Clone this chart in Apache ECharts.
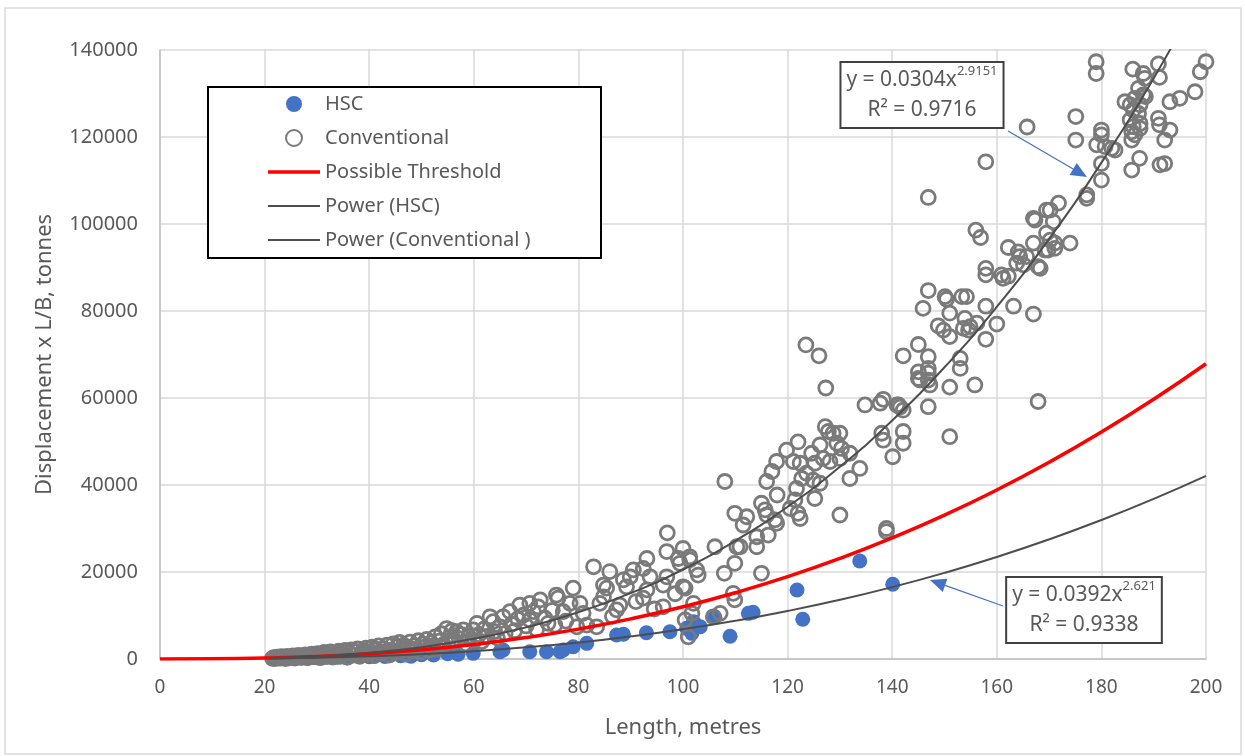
<!DOCTYPE html>
<html>
<head>
<meta charset="utf-8">
<title>Displacement x L/B vs Length</title>
<script src="https://cdn.jsdelivr.net/npm/echarts@6/dist/echarts.min.js"></script>
<style>
  html, body { margin: 0; padding: 0; background: #fff; }
  #chart { width: 1245px; height: 756px; }
</style>
</head>
<body>
<div id="chart"></div>
<script>
(function () {

    // HSC points [length m, displacement x L/B t]
    var hscData = [
        [22, 150], [23, 180], [24, 120], [25, 250], [26, 200], [27, 300], [28, 260],
        [30, 350], [31, 300], [32, 420], [34, 380], [35, 500], [36, 450], [38, 560],
        [40, 520], [41, 650], [43, 600], [44, 800], [46, 750], [47, 900], [48, 650],
        [50, 1000], [52.3, 920], [55, 1200], [57, 1100], [59.9, 1300], [65, 1680],
        [65.6, 2070], [70.7, 1680], [73.9, 1680], [76.5, 1680], [77.1, 2070],
        [79, 2830], [81.6, 3600], [87.3, 5520], [88.6, 5680], [93, 6050], [97.5, 6280],
        [100.7, 7050], [101.7, 5900], [102, 8580], [103.3, 7430], [106.1, 9590],
        [109, 5220], [112.5, 10500], [113.4, 10740], [121.8, 15860], [122.9, 9130],
        [133.8, 22530], [140.1, 17170]
    ];

    // Conventional points
    var convData = [
        [21.5, 150], [21.8, 320], [22, 80], [22.3, 420], [22.6, 250], [23, 180], [23.2, 520],
        [23.6, 330], [24, 90], [24.3, 600], [24.7, 260], [25, 420], [25.4, 700], [25.8, 200],
        [26.2, 520], [26.5, 850], [27, 350], [27.4, 650], [27.8, 950], [28.2, 250], [28.6, 700],
        [29, 1100], [29.4, 480], [29.8, 850], [30.2, 1250], [30.6, 300], [31, 900], [31.4, 1500],
        [31.8, 620], [32.2, 1100], [32.6, 1650], [33, 420], [33.4, 850], [33.8, 1300], [34.2, 1800],
        [34.6, 650], [35, 1150], [35.4, 2000], [35.8, 400], [36.2, 1400], [36.6, 2100], [37, 900],
        [37.4, 1700], [37.8, 2300], [38.2, 600], [38.6, 1250], [39, 1900], [39.4, 2500], [39.8, 1000],
        [40.2, 1600], [40.6, 2700], [41, 800], [41.4, 2100], [41.8, 3000], [42.2, 1300], [42.6, 2400],
        [43, 1700], [43.4, 3200], [43.8, 900], [44.2, 2100], [44.6, 3500], [45, 1500], [45.4, 2800],
        [45.8, 3800], [46.2, 2000], [46.6, 3200], [47, 1200], [47.4, 2600], [47.8, 3900], [48.2, 1800],
        [48.6, 3000], [49, 2300], [49.4, 4200], [49.8, 1600], [50.2, 3400], [50.6, 2700], [51, 4500],
        [51.4, 2000], [51.8, 3700], [52.2, 3000], [52.6, 5100], [53, 2400], [53.4, 4100], [53.8, 5800],
        [54.2, 3300], [54.8, 7000], [55.4, 5100], [55.8, 6500], [56.2, 3800], [56.7, 6300], [57.2, 4700],
        [57.6, 5600], [58, 6700], [58.4, 3500], [59, 5200], [59.9, 6700], [60.2, 4300], [60.6, 8200],
        [61, 5600], [61.5, 4000], [62, 6900], [62.5, 5200], [63.1, 9700], [63.7, 8600], [64, 6300],
        [64.5, 4800], [65, 7400], [65.6, 9700], [66, 5900], [66.9, 10900], [67.2, 8000], [67.8, 6500],
        [68.4, 9200], [68.8, 12400],
        [69.5, 10100], [70, 7600], [70.7, 12800], [70.7, 9000], [71.4, 10900], [72, 6800], [72.3, 12000],
        [72.7, 13600], [73.6, 9400], [74.2, 8200], [75, 11200], [75.5, 7800], [75.8, 14700], [76.1, 14000],
        [77.1, 10900], [77.6, 8700], [78.4, 12800], [79, 16300], [79.7, 7400], [80.3, 12800], [80.9, 10500],
        [81.6, 7800], [82.9, 21200], [83.5, 7400], [84.1, 12800], [84.8, 17000], [84.8, 14300], [85.4, 16300],
        [86, 20100], [86.5, 9800], [87.3, 11300], [87.9, 12400], [88.6, 18200], [89.2, 16600], [89.9, 18900],
        [90.5, 20500], [91, 13200], [92.4, 20800], [92.4, 14000], [93.1, 23100], [93.1, 15900], [93.7, 18900],
        [94.5, 11500], [96.2, 17000], [96.2, 12000], [96.9, 24700], [96.9, 18900], [97, 29000], [98.5, 15000],
        [99.1, 23100], [99.4, 22000], [100, 25400], [100, 16600], [100.4, 16300], [100.4, 9000], [101, 5100],
        [101.3, 22800], [101.3, 23500], [101.7, 10500], [102, 12800], [102.6, 20500], [102.9, 19300],
        [105.8, 9700], [106.1, 25800], [107.1, 10500], [107.9, 19700], [108, 40800], [109.6, 15100],
        [109.9, 13600], [109.9, 22000], [109.9, 33500], [110.3, 25800], [110.9, 25800], [111.5, 30800],
        [112.2, 32700], [114.1, 28100], [114.1, 25800], [115, 35800], [115, 19700], [115.7, 34300],
        [116, 33100], [116, 40800], [116.3, 28500], [117, 43100], [117.6, 32000], [117.9, 31200],
        [117.9, 45400], [118, 37700], [119.8, 48000], [120.5, 34600], [121.1, 45400], [121.4, 36600],
        [121.7, 39200], [122, 49900], [122, 33500], [122.4, 45000], [122.4, 32300], [122.7, 41500],
        [123.5, 72200], [123.6, 42700], [124.6, 47300], [124.9, 41100], [125.2, 45000], [125.2, 36900],
        [126, 69700], [126.2, 49200], [126.2, 40400], [126.8, 46100], [127.2, 53400], [127.3, 62300],
        [127.8, 52300], [128.1, 45400], [128.7, 51900], [129.4, 49600], [130, 51900], [130, 46100],
        [130, 33100], [130.3, 48400], [131.9, 47300], [131.9, 41500], [133.8, 43800], [134.8, 58400],
        [137.7, 58800], [138, 51900], [138.3, 50300], [138.3, 59700], [138.9, 30000], [138.9, 29300],
        [140.1, 46500], [140.9, 58400], [141.2, 58400], [141.5, 57900], [142.1, 57200], [142.1, 52300],
        [142.1, 49600], [142.1, 69700], [145, 72300], [145, 66000], [145, 64500], [145.3, 64100],
        [145.9, 80600], [146.9, 106100], [146.9, 84700], [146.9, 69500], [146.9, 66800], [146.9, 65700],
        [146.9, 64100], [146.9, 58000], [147.2, 63000], [148.8, 76600], [149.8, 75600], [150.1, 83300],
        [150.4, 82700], [151, 79500], [151, 74100], [151, 62500], [151, 51100], [153, 69100], [153, 66800],
        [153.3, 83300], [153.6, 76000], [153.9, 78300], [154.2, 83300], [154.6, 75600], [154.9, 76400],
        [155.8, 63000], [156, 98600], [156.2, 77200], [156.9, 96900], [157.9, 114300], [157.9, 89800],
        [157.9, 88300], [157.9, 81100], [157.9, 73500], [160, 77000], [160.9, 88300], [161.2, 87500],
        [162.2, 94600], [162.2, 88000], [163.2, 81100], [163.8, 91000], [164.1, 93600], [164.4, 92500],
        [165.1, 90600], [165.7, 92500], [165.8, 122300], [167, 101300], [167, 95600], [167, 79300],
        [167.3, 100900], [167.9, 90200], [167.9, 59200], [168.3, 89800], [169.2, 94000], [169.5, 103200],
        [169.5, 97900], [169.8, 94000], [170.2, 103200], [170.2, 96300], [170.8, 100500], [171.1, 95600],
        [171.1, 94400], [171.8, 104800], [174, 95600], [175.1, 124700], [175.1, 119300], [177.2, 106700],
        [177.2, 105900], [179, 137300], [179, 134600], [179.1, 118200], [180, 121600], [180, 120500],
        [180, 113900], [180, 110100], [180.7, 117800], [182, 117400], [182.6, 117000], [184.5, 128100],
        [185.5, 127400], [185.5, 123900], [185.8, 121200], [185.8, 119300], [185.8, 112400], [186, 135600],
        [186.1, 126200], [186.1, 122400], [186.4, 128900], [186.4, 120500], [187.1, 131200], [187.1, 125400],
        [187.3, 115100], [187.4, 127400], [187.4, 123100], [187.4, 122000], [188, 134600], [188, 129700],
        [188.3, 133500], [188.4, 129300], [190.9, 136800], [190.9, 124300], [191.1, 133700], [191.1, 122800],
        [191.2, 113600], [192.1, 119300], [192.1, 113900], [193.1, 128100], [193.1, 121600], [195, 128900],
        [197.9, 130400], [198.9, 135000], [200, 137300]
    ];

    // curves (threshold line and the two Excel power trendlines)
    var thresholdData = [
        [0, 0], [10, 38], [20, 215], [30, 592], [40, 1214], [50, 2121], [60, 3346], [70, 4920],
        [80, 6869], [90, 9221], [100, 12000], [110, 15229], [120, 18929], [130, 23123], [140, 27829],
        [150, 33068], [160, 38858], [170, 45217], [180, 52163], [190, 59714], [200, 67882]
    ];
    var powerHscData = [
        [21, 115], [30, 292], [40, 620], [50, 1112], [60, 1793], [70, 2687], [80, 3812], [90, 5192],
        [100, 6845], [110, 8786], [120, 11035], [130, 13610], [140, 16530], [150, 19800], [160, 23450],
        [170, 27500], [180, 31950], [190, 36810], [200, 42100]
    ];
    var powerConvData = [
        [21, 217], [30, 615], [40, 1423], [50, 2726], [60, 4638], [70, 7271], [80, 10731], [90, 15130],
        [100, 20574], [110, 27160], [120, 35000], [130, 44180], [140, 54840], [150, 67060], [160, 80950],
        [170, 96570], [180, 114100], [190, 133530], [200, 155100]
    ];

    var seriesNames = ['HSC', 'Conventional', 'Possible Threshold', 'Power (HSC)', 'Power (Conventional )'];
    var hscEquation = ['0.0392', '2.621', '0.9338'];
    var convEquation = ['0.0304', '2.9151', '0.9716'];

    var FONT = "'Noto Sans', 'Open Sans', sans-serif";
    var TXT = '#595959';

    function arrow(x1, y1, x2, y2) {
        var dx = x2 - x1, dy = y2 - y1;
        var len = Math.sqrt(dx * dx + dy * dy);
        var ux = dx / len, uy = dy / len;
        var bx = x2 - ux * 16, by = y2 - uy * 16;
        return [
            {type: 'line', z: 10, shape: {x1: x1, y1: y1, x2: bx, y2: by},
                style: {stroke: '#4472C4', lineWidth: 1.3}},
            {type: 'polygon', z: 10, shape: {points: [[x2, y2], [bx - uy * 7, by + ux * 7], [bx + uy * 7, by - ux * 7]]},
                style: {fill: '#4472C4'}}
        ];
    }

    function eqLabel(cx, cy, eq) {
        return {
            type: 'text', z: 10, x: cx, y: cy,
            style: {
                text: 'y = ' + eq[0] + 'x{sup|' + eq[1] + '}\nR² = ' + eq[2],
                align: 'center', verticalAlign: 'middle',
                font: '21px ' + FONT, fill: TXT, lineHeight: 30,
                backgroundColor: '#fff', borderColor: '#404040', borderWidth: 2,
                padding: [2, 5, 2, 5],
                rich: {sup: {fontSize: 13, fill: TXT, verticalAlign: 'top', lineHeight: 30, fontFamily: FONT}}
            }
        };
    }

    function lineIcon(h) {
        return 'path://M0,0L52,0L52,' + h + 'L0,' + h + 'Z';
    }

    var graphics = [
        {type: 'rect', z: -1, shape: {x: 5, y: 8, width: 1236, height: 746},
            style: {fill: 'none', stroke: '#d9d9d9', lineWidth: 1.5}},
        {type: 'rect', z: 3, shape: {x: 208, y: 87, width: 393, height: 171},
            style: {fill: '#fff', stroke: '#000', lineWidth: 2}},
        eqLabel(922, 95, convEquation),
        eqLabel(1084, 610, hscEquation)
    ].concat(arrow(1008, 131, 1087, 177)).concat(arrow(1003, 606, 930, 580));

    var option = {
        animation: false,
        backgroundColor: '#fff',
        textStyle: {fontFamily: FONT},
        grid: {left: 160, right: 39, top: 50, bottom: 97, containLabel: false, outerBoundsMode: 'none'},
        legend: {
            orient: 'vertical',
            left: 268, top: 94,
            padding: 0,
            itemGap: 14,
            itemWidth: 52,
            itemHeight: 16,
            z: 5,
            textStyle: {fontSize: 20, color: TXT, fontFamily: FONT},
            data: [
                {name: seriesNames[0]},
                {name: seriesNames[1]},
                {name: seriesNames[2], icon: lineIcon(3.5)},
                {name: seriesNames[3], icon: lineIcon(2)},
                {name: seriesNames[4], icon: lineIcon(2)}
            ]
        },
        xAxis: {
            type: 'value', min: 0, max: 200, interval: 20,
            name: 'Length, metres', nameLocation: 'middle', nameGap: 58,
            nameTextStyle: {fontSize: 22, color: TXT, fontFamily: FONT},
            axisLine: {show: true, lineStyle: {color: '#bfbfbf', width: 1.5}},
            axisTick: {show: false},
            axisLabel: {fontSize: 19, color: TXT, margin: 19, fontFamily: FONT},
            splitLine: {show: true, lineStyle: {color: '#d9d9d9', width: 1.5}}
        },
        yAxis: {
            type: 'value', min: 0, max: 140000, interval: 20000,
            name: 'Displacement x L/B, tonnes', nameLocation: 'middle', nameGap: 104, nameRotate: 90,
            nameTextStyle: {fontSize: 22, color: TXT, fontFamily: FONT},
            axisLine: {show: true, lineStyle: {color: '#bfbfbf', width: 1.5}},
            axisTick: {show: false},
            axisLabel: {fontSize: 20, color: TXT, margin: 22, fontFamily: FONT,
                formatter: function (v) { return String(v); }},
            splitLine: {show: true, lineStyle: {color: '#d9d9d9', width: 1.5}}
        },
        series: [
            {
                name: seriesNames[0], type: 'scatter', data: hscData,
                symbol: 'circle', symbolSize: 15,
                itemStyle: {color: '#4472C4', opacity: 1}, z: 2
            },
            {
                name: seriesNames[1], type: 'scatter', data: convData,
                symbol: 'circle', symbolSize: 14,
                itemStyle: {color: 'rgba(255,255,255,0)', borderColor: '#7a7a7a', borderWidth: 2.8, opacity: 1}, z: 3
            },
            {
                name: seriesNames[2], type: 'line', data: thresholdData, smooth: true,
                symbol: 'none', lineStyle: {color: '#ff0000', width: 3.5}, itemStyle: {color: '#ff0000'}, z: 4
            },
            {
                name: seriesNames[3], type: 'line', data: powerHscData, smooth: true,
                symbol: 'none', lineStyle: {color: '#4d4d4d', width: 2}, itemStyle: {color: '#4d4d4d'}, z: 4
            },
            {
                name: seriesNames[4], type: 'line', data: powerConvData, smooth: true,
                symbol: 'none', lineStyle: {color: '#4d4d4d', width: 2}, itemStyle: {color: '#4d4d4d'}, z: 4,
                clip: true
            }
        ],
        graphic: graphics
    };

    var chart = echarts.init(document.getElementById('chart'), null, {renderer: 'canvas'});
    chart.setOption(option);

    window.addEventListener('resize', function () {
        chart.resize();
    });

})();
</script>
</body>
</html>
